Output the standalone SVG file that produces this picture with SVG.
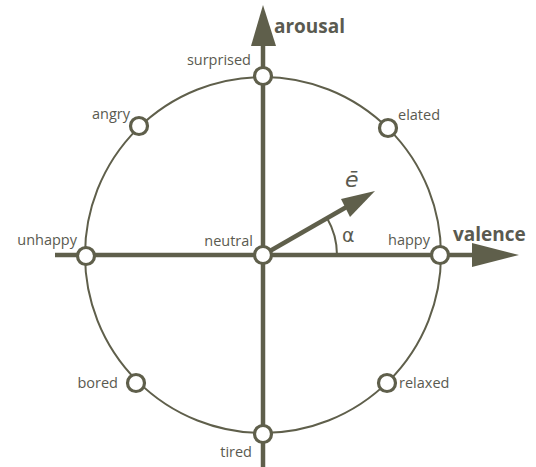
<svg xmlns="http://www.w3.org/2000/svg" width="536" height="467" viewBox="0 0 536 467">
<style>
.ax{stroke:#5f5f4b;stroke-width:4.5;fill:none}
.ring{stroke:#5f5f4b;stroke-width:2;fill:none}
.nd{fill:#fff;stroke:#5f5f4b;stroke-width:3.2}
.lb{font-family:"Open Sans","Liberation Sans",sans-serif;font-size:14.5px;fill:#5a5a50}
.ttl{font-family:"Open Sans","Liberation Sans",sans-serif;font-size:19px;font-weight:bold;fill:#5a5a50}
.hd{fill:#5f5f4b}
</style>
<rect width="536" height="467" fill="#fff"/>
<g id="connectors">
<circle class="ring" cx="263" cy="255" r="178"/>
<line class="ax" x1="263" y1="40" x2="263" y2="467"/>
<polygon class="hd" points="263,5 276,46 251,46"/>
<line class="ax" x1="55" y1="255" x2="478" y2="255"/>
<polygon class="hd" points="519,255 472,243 472,267"/>
<line class="ax" x1="263" y1="255" x2="350" y2="205"/>
<polygon class="hd" points="375,191 341,199 350,217"/>
<path class="ring" d="M337,255 A74,74 0 0 0 327,218"/>
</g>
<g id="neutral"><circle class="nd" cx="263" cy="255" r="8.5"/><text class="lb" x="253" y="246" text-anchor="end">neutral</text></g>
<g id="surprised"><circle class="nd" cx="263" cy="76" r="8.5"/><text class="lb" x="251" y="65" text-anchor="end">surprised</text></g>
<g id="tired"><circle class="nd" cx="263" cy="434" r="8.5"/><text class="lb" x="252" y="457" text-anchor="end">tired</text></g>
<g id="unhappy"><circle class="nd" cx="86" cy="256" r="8.5"/><text class="lb" x="77" y="245" text-anchor="end">unhappy</text></g>
<g id="happy"><circle class="nd" cx="440" cy="255" r="8.5"/><text class="lb" x="430" y="245" text-anchor="end">happy</text></g>
<g id="angry"><circle class="nd" cx="139" cy="126" r="8.5"/><text class="lb" x="130" y="119" text-anchor="end">angry</text></g>
<g id="elated"><circle class="nd" cx="388" cy="128" r="8.5"/><text class="lb" x="398" y="120">elated</text></g>
<g id="bored"><circle class="nd" cx="136" cy="383" r="8.5"/><text class="lb" x="118" y="388" text-anchor="end">bored</text></g>
<g id="relaxed"><circle class="nd" cx="387" cy="383" r="8.5"/><text class="lb" x="399" y="388">relaxed</text></g>
<g id="arousal"><text class="ttl" x="274" y="33">arousal</text></g>
<g id="valence"><text class="ttl" x="453" y="241">valence</text></g>
<g id="e"><text x="345" y="187" font-family="'DejaVu Sans','Liberation Sans',sans-serif" font-style="italic" font-size="22" fill="#5a5a50">ē</text></g>
<g id="alpha"><text x="342" y="242" font-family="'DejaVu Sans','Liberation Sans',sans-serif" font-size="19" fill="#5a5a50">α</text></g>
</svg>
